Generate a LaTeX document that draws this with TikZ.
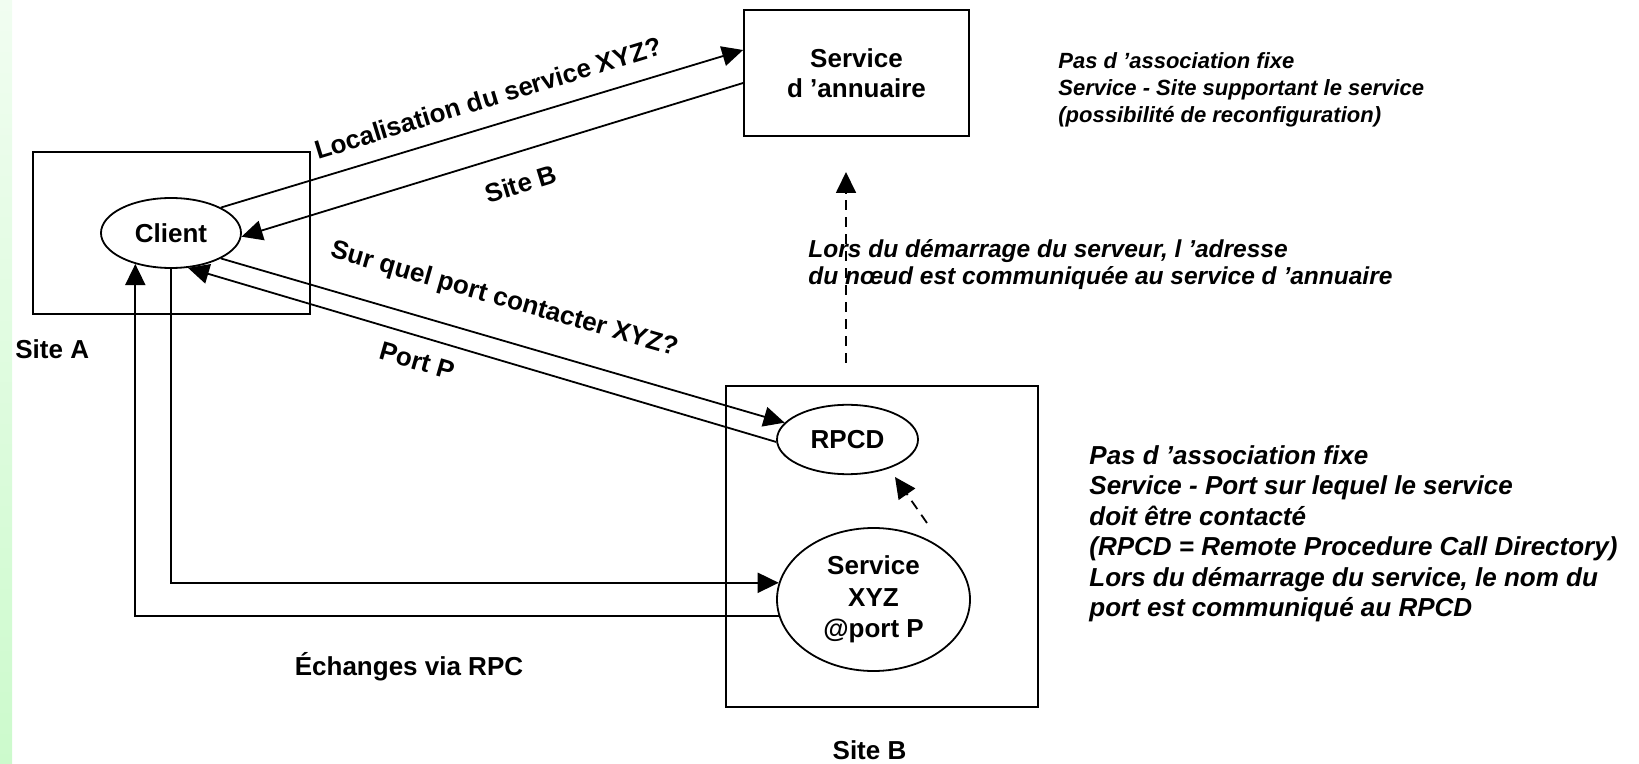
\documentclass[tikz,border=0pt]{standalone}
\usepackage{fontspec}
\setmainfont{Liberation Sans}
\usetikzlibrary{arrows.meta,shapes.geometric}

\definecolor{stripTop}{HTML}{F1FDF1}
\definecolor{stripBot}{HTML}{CCFACC}

\tikzset{
  lbl/.style={font=\fontsize{13}{15.5}\selectfont\bfseries, inner sep=0pt},
  frame/.style={draw, line width=0.9pt, rectangle, inner sep=0pt},
  ell/.style={draw, line width=0.9pt, ellipse, inner sep=0pt, align=center,
              font=\fontsize{13}{15.85}\selectfont\bfseries},
  arr/.style={line width=0.9pt, -{Triangle[length=10.5pt,width=10pt]}},
  dasharr/.style={arr, dash pattern=on 5pt off 3.5pt},
  note/.style={font=\fontsize{13}{15.25}\selectfont\bfseries\itshape,
               align=left, inner sep=0pt, anchor=north west},
  smallnote/.style={font=\fontsize{11}{13.5}\selectfont\bfseries\itshape,
               align=left, inner sep=0pt, anchor=north west},
  midnote/.style={font=\fontsize{12.25}{13.75}\selectfont\bfseries\itshape,
               align=left, inner sep=0pt, anchor=north west},
}

\begin{document}
\begin{tikzpicture}[x=0.5pt, y=-0.5pt]
\useasboundingbox (0,0) rectangle (1639,764);

% pale green strip along the left border
\shade[top color=stripTop, bottom color=stripBot] (0,0) rectangle (12,764);

% ---- Site A ----
\node[frame, minimum width=138.5pt, minimum height=81pt] (siteA) at (171.5,233) {};
\node[ell, minimum width=70pt, minimum height=35pt] (client) at (171,233) {Client};
\node[lbl, anchor=west] (siteAlbl) at (15,349) {Site A};

% ---- directory service ----
\node[frame, minimum width=112.5pt, minimum height=63pt, align=center,
      font=\fontsize{13}{15}\selectfont\bfseries] (annu) at (856.5,73)
      {Service\\d ’annuaire};
\node[smallnote] (annunote) at (1058,52)
  {Pas d ’association fixe\\Service - Site supportant le service\\(possibilité de reconfiguration)};

% ---- Site B ----
\node[frame, minimum width=156.2pt, minimum height=160.5pt] (siteB) at (881.9,546.2) {};
\node[lbl] (siteBlbl) at (869.5,750) {Site B};
\node[ell, minimum width=70.5pt, minimum height=34.7pt] (rpcd) at (847.5,439.5) {RPCD};
\node[ell, minimum width=96.5pt, minimum height=71.5pt] (xyz) at (873.5,599.5) {Service\\XYZ\\@port P};

\node[note] (rpcdnote) at (1089,445)
  {Pas d ’association fixe\\Service - Port sur lequel le service\\doit être contacté\\(RPCD = Remote Procedure Call Directory)\\Lors du démarrage du service, le nom du\\port est communiqué au RPCD};

% ---- directory lookup ----
\draw[arr] (client.27) -- ([yshift=11.5pt]annu.west);
\draw[arr] ([yshift=-5pt]annu.west) -- (client.-3);
\node[lbl, rotate=17] (lookuplbl) at (488,98) {Localisation du service XYZ?};
\node[lbl, rotate=17] (answerlbl) at (521,184) {Site B};

% ---- port lookup ----
\draw[arr] (client.-27) -- (rpcd.165);
\draw[arr] (rpcd.182) -- (client.-64);
\node[lbl, rotate=-16] (portqlbl) at (504,300) {Sur quel port contacter XYZ?};
\node[lbl, rotate=-16] (portalbl) at (417,361) {Port P};

% ---- registrations ----
\coordinate (regFrom) at (846,363);
\coordinate (regTo) at (846,172);
\draw[dasharr] (regFrom) -- (regTo);
\node[midnote] (regnote) at (808,239)
  {Lors du démarrage du serveur, l ’adresse\\du nœud est communiquée au service d ’annuaire};

\coordinate (portRegFrom) at (927,523);
\coordinate (portRegTo) at (895,477);
\draw[dasharr] (portRegFrom) -- (portRegTo);

% ---- RPC exchanges ----
\draw[arr] (client.south) |- (xyz.170);
\draw[arr] (xyz.190.6) -| (client.221);
\node[lbl] (rpclbl) at (409,667) {Échanges via RPC};
\end{tikzpicture}
\end{document}
